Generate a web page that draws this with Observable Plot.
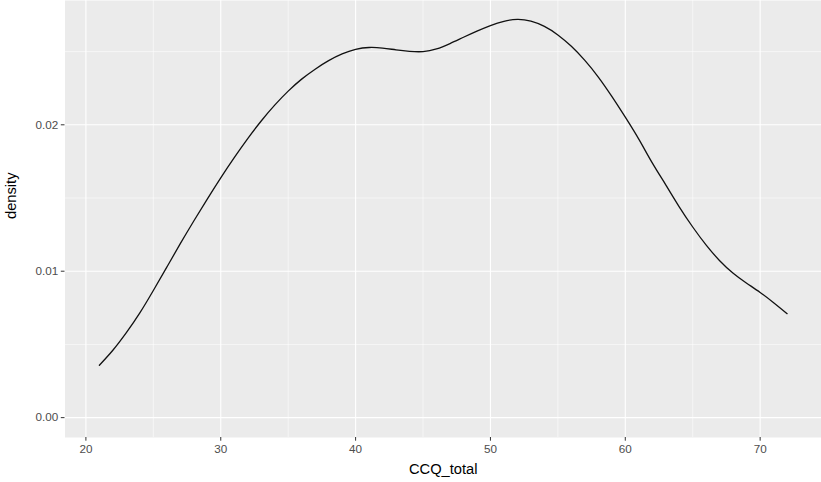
<!DOCTYPE html>
<html>
<head>
<meta charset="utf-8">
<script src="https://cdn.jsdelivr.net/npm/d3@7"></script>
<script src="https://cdn.jsdelivr.net/npm/@observablehq/plot@0.6"></script>
<style>
  html, body { margin: 0; padding: 0; background: #ffffff; }
  svg { display: block; }
</style>
</head>
<body>
<div id="chart"></div>
<script>
// Kernel density estimate of CCQ_total
const ccqTotal = [21, 22, 23, 24, 25, 26, 27, 28, 29, 30, 31, 32, 33, 34, 35, 36, 37, 38, 39, 40,
  41, 42, 43, 44, 45, 46, 47, 48, 49, 50, 51, 52, 53, 54, 55, 56, 57, 58, 59, 60,
  61, 62, 63, 64, 65, 66, 67, 68, 69, 70, 71, 72];
const density = [0.00358, 0.0046, 0.0058, 0.00715, 0.00868, 0.01028, 0.01188, 0.01343, 0.01493, 0.01638,
  0.01776, 0.01906, 0.02026, 0.02134, 0.0223, 0.02312, 0.0238, 0.02438, 0.02484, 0.02515,
  0.02528, 0.02524, 0.02512, 0.02502, 0.025, 0.02518, 0.02555, 0.02598, 0.0264, 0.02678,
  0.02707, 0.0272, 0.02708, 0.02672, 0.02614, 0.02536, 0.0244, 0.02326, 0.02194, 0.02052,
  0.01902, 0.0174, 0.0159, 0.0144, 0.01302, 0.01178, 0.01072, 0.00986, 0.00918, 0.00855,
  0.00785, 0.0071];

const xMajor = [20, 30, 40, 50, 60, 70];
const xMinor = [25, 35, 45, 55, 65];
const yMajor = [0, 0.01, 0.02];
const yMinor = [0.005, 0.015, 0.025];

const points = ccqTotal.map((x, i) => ({x, y: density[i]}));

const font = "'Liberation Sans', Arial, Helvetica, sans-serif";

const chart = Plot.plot({
  width: 821,
  height: 482,
  marginLeft: 64.5,
  marginRight: 0,
  marginTop: 0,
  marginBottom: 45,
  style: {fontFamily: font, background: "#ffffff"},
  x: {domain: [18.45, 74.55]},
  y: {domain: [-0.001357, 0.02849]},
  marks: [
    Plot.frame({fill: "#ebebeb", stroke: null}),
    Plot.ruleX(xMinor, {stroke: "#ffffff", strokeWidth: 0.55}),
    Plot.ruleY(yMinor, {stroke: "#ffffff", strokeWidth: 0.55}),
    Plot.ruleX(xMajor, {stroke: "#ffffff", strokeWidth: 1.1}),
    Plot.ruleY(yMajor, {stroke: "#ffffff", strokeWidth: 1.1}),
    Plot.line(points, {x: "x", y: "y", curve: "natural", stroke: "#111111", strokeWidth: 1.3}),
    Plot.axisX({
      ticks: xMajor, tickSize: 3.7, tickPadding: 3, fontSize: 11.7,
      stroke: "#333333", fill: "#4d4d4d", label: null
    }),
    Plot.axisY({
      ticks: yMajor, tickSize: 3.7, tickPadding: 3, fontSize: 11.7,
      tickFormat: d3.format(".2f"),
      stroke: "#333333", fill: "#4d4d4d", label: null
    }),
    Plot.text(["CCQ_total"], {
      frameAnchor: "bottom", dy: 31.7, lineAnchor: "middle",
      fontSize: 14.7, fill: "#000000", text: d => d
    }),
    Plot.text(["density"], {
      frameAnchor: "left", dx: -53.5, rotate: -90, lineAnchor: "middle",
      fontSize: 14.7, fill: "#000000", text: d => d
    })
  ]
});

document.getElementById("chart").appendChild(chart);
</script>
</body>
</html>
